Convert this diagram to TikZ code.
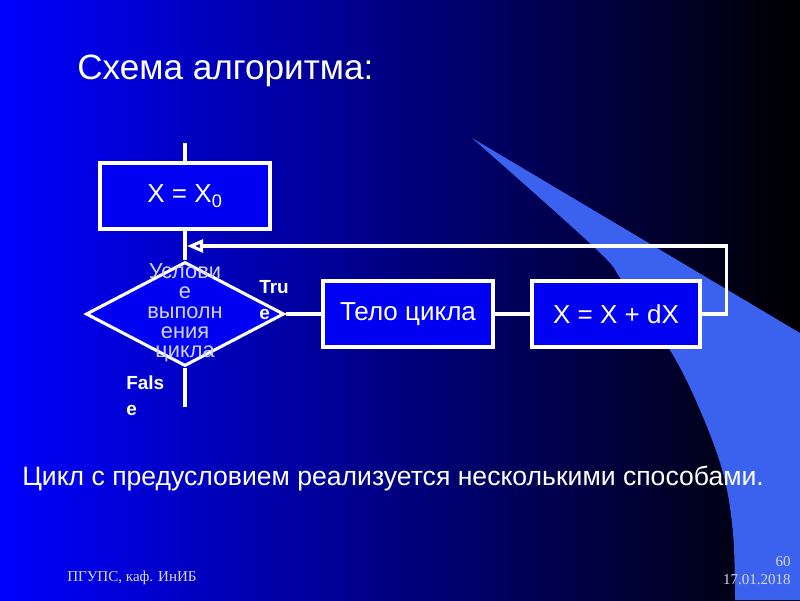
\documentclass[tikz,border=0pt]{standalone}
\usepackage{fontspec}
\setmainfont{Liberation Sans}
\newfontfamily\footfont{Liberation Serif}
\usetikzlibrary{arrows.meta,shapes.geometric}
\definecolor{SlideBlue}{HTML}{0000FF}
\definecolor{SlideDark}{HTML}{000000}
\definecolor{SwooshBlue}{HTML}{3A62EE}
\definecolor{BoxFill}{HTML}{0000F2}
\definecolor{PaleText}{HTML}{D2D2F5}
\definecolor{FootText}{HTML}{D8D8E8}
\tikzset{
  every node/.style={text=white},
  caption/.style={inner sep=0pt, anchor=west},
  block/.style={draw=white, line width=2.2pt, fill=BoxFill, minimum height=1.65cm, inner sep=0pt, font=\fontsize{18.5}{21}\selectfont},
  decision/.style={diamond, draw=white, line width=2.2pt, fill=BoxFill, minimum width=4.95cm, minimum height=2.6cm, inner sep=0pt},
  flow/.style={draw=white, line width=2.2pt},
  loopback/.style={flow, -{Triangle[open, length=4mm, width=3.2mm]}},
  branch/.style={caption, font=\bfseries\fontsize{13.5}{18.5}\selectfont, align=left},
  footer/.style={inner sep=0pt, text=FootText, font=\footfont\fontsize{10.7}{12.5}\selectfont},
}

\begin{document}
\begin{tikzpicture}[x=0.025cm, y=-0.025cm]
  % Background
  \shade[left color=SlideBlue, right color=SlideDark] (0,0) rectangle (800,600);
  \useasboundingbox (0,0) rectangle (800,600);
  \fill[SwooshBlue] (472,138) -- (800,333) -- (800,600) -- plot[smooth, tension=0.6]
    coordinates {(735,600) (733,533) (723,473) (700,410) (670,350) (623,282) (595,248) (472,138)} -- cycle;
  % Title
  \node[caption, font=\fontsize{25}{29}\selectfont] (title) at (77,71) {Схема алгоритма:};
  % Flowchart
  \node[block, minimum width=4.25cm] (init) at (185,196) {X = X\textsubscript{0}};
  \node[decision] (cond) at (185,314) {};
  \node[font=\fontsize{15.5}{14}\selectfont, text=PaleText, align=center, inner sep=0pt] (condlbl) at (185,313) {Услови\\е\\выполн\\ения\\цикла};
  \node[block, minimum width=4.25cm] (body) at (408,314) {Тело цикла};
  \node[block, minimum width=4.2cm] (incr) at (616,314) {X = X + dX};
  \coordinate (entry) at (185,143);
  \coordinate (exit) at (185,407);
  \coordinate (loopin) at (187,246);
  \node[branch] (truelbl) at (259,300) {Tru\\e};
  \node[branch] (falselbl) at (126,396) {Fals\\e};
  \draw[flow] (entry) -- (init);
  \draw[flow] (init) -- (cond);
  \draw[flow] (cond) -- (exit);
  \draw[flow] (cond) -- (body);
  \draw[flow] (body) -- (incr);
  \draw[loopback] (incr.east) -- ++(25,0) |- (loopin);
  % Text below
  \node[caption, font=\fontsize{18.9}{21}\selectfont] (summary) at (22,478) {Цикл с предусловием реализуется несколькими способами.};
  % Footer
  \node[footer, anchor=west] (dept) at (67,578) {ПГУПС, каф. ИнИБ};
  \node[footer, anchor=east] (pagenum) at (791,562) {60};
  \node[footer, anchor=east] (date) at (791,580) {17.01.2018};
\end{tikzpicture}
\end{document}
